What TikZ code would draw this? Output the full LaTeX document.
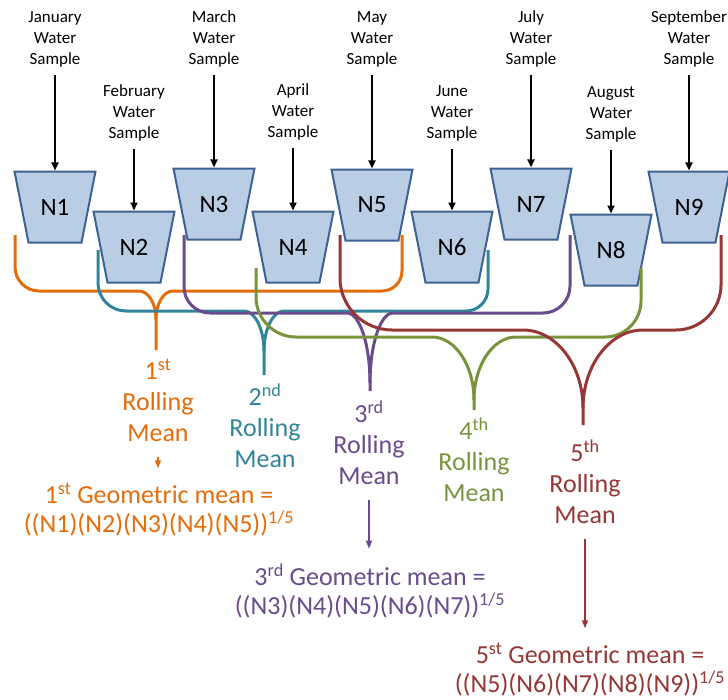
\documentclass[tikz,border=0pt]{standalone}
\usepackage{fontspec}
\setmainfont{Carlito}
\usetikzlibrary{arrows.meta}
\definecolor{cOr}{RGB}{228,108,10}
\definecolor{cTe}{RGB}{49,133,155}
\definecolor{cPu}{RGB}{104,76,140}
\definecolor{cGr}{RGB}{119,147,60}
\definecolor{cRe}{RGB}{149,55,53}
\definecolor{tfill}{RGB}{185,205,229}
\definecolor{tdraw}{RGB}{62,98,145}
\pgfdeclarelayer{bg}
\pgfsetlayers{bg,main}
\begin{document}
\begin{tikzpicture}[x=1bp,y=-1bp,
 trap/.style={rectangle, minimum width=81bp, minimum height=71bp, inner sep=0pt, outer sep=0pt,
   font=\fontsize{25bp}{30bp}\selectfont},
 trapshape/.style={fill=tfill, draw=tdraw, line width=2bp, line join=miter},
 sample/.style={align=center, inner sep=0pt, font=\fontsize{17bp}{21bp}\selectfont},
 inarr/.style={-{Triangle[length=8bp,width=7bp]}, line width=2bp, shorten <=8bp, shorten >=1bp},
 rlab/.style={align=center, inner sep=0pt, font=\fontsize{26bp}{31bp}\selectfont},
 glab/.style={align=center, inner sep=0pt, font=\fontsize{26bp}{29bp}\selectfont},
 outarr/.style={-{Triangle[length=8bp,width=6bp]}, line width=1.5bp, shorten <=15bp, shorten >=15bp},
 bracepath/.style={line width=3bp}]
\useasboundingbox (0,0) rectangle (728,700);

% trapezoid nodes
\node[trap] (N1) at (55,207) {N1};
\node[trap] (N2) at (134,247) {N2};
\node[trap] (N3) at (214,204) {N3};
\node[trap] (N4) at (293,247) {N4};
\node[trap] (N5) at (372,205) {N5};
\node[trap] (N6) at (452,247) {N6};
\node[trap] (N7) at (531,204) {N7};
\node[trap] (N8) at (611,250) {N8};
\node[trap] (N9) at (689,207) {N9};
\begin{pgfonlayer}{bg}
\foreach \i in {1,...,9} {
  \draw[trapshape] (N\i.north west) -- (N\i.north east) -- ([xshift=-14bp]N\i.south east)
     -- ([xshift=14bp]N\i.south west) -- cycle;
}
\end{pgfonlayer}

% sample labels
\node[sample] (S1) at (55,39) {January\\Water\\Sample};
\node[sample] (S2) at (134,113) {February\\Water\\Sample};
\node[sample] (S3) at (214,39) {March\\Water\\Sample};
\node[sample] (S4) at (293,112) {April\\Water\\Sample};
\node[sample] (S5) at (372,39) {May\\Water\\Sample};
\node[sample] (S6) at (452,113) {June\\Water\\Sample};
\node[sample] (S7) at (531,39) {July\\Water\\Sample};
\node[sample] (S8) at (611,114) {August\\Water\\Sample};
\node[sample] (S9) at (689,39) {September\\Water\\Sample};

\foreach \i in {1,...,9} { \draw[inarr] (S\i) -- (N\i); }

% braces
\foreach \cl/\xl/\xr/\ye/\yh/\rl/\rr/\xt/\tw/\td/\yt in {
  cOr/15/402/235/291/24/20/156/17/28/350,
  cTe/98/488/250/311/28/22/264/20/40/375,
  cPu/184/570/235/313/26/27/370/23/70/391,
  cGr/256/641/268/337/40/36/474/42/63/410,
  cRe/340/721/235/330/52/45/583/60/78/425}{
  \draw[bracepath, draw=\cl] ({\xl},{\ye}) -- ({\xl},{\yh-\rl})
     .. controls ({\xl},{\yh-0.45*\rl}) and ({\xl+0.45*\rl},{\yh}) .. ({\xl+\rl},{\yh})
     -- ({\xt-\tw},{\yh})
     .. controls ({\xt-0.45*\tw},{\yh}) and ({\xt},{\yh+0.45*\td}) .. ({\xt},{\yh+\td})
     -- ({\xt},{\yt});
  \draw[bracepath, draw=\cl] ({\xr},{\ye}) -- ({\xr},{\yh-\rr})
     .. controls ({\xr},{\yh-0.45*\rr}) and ({\xr-0.45*\rr},{\yh}) .. ({\xr-\rr},{\yh})
     -- ({\xt+\tw},{\yh})
     .. controls ({\xt+0.45*\tw},{\yh}) and ({\xt},{\yh+0.45*\td}) .. ({\xt},{\yh+\td});
}

% rolling mean labels
\node[rlab, text=cOr] (R1) at (158,400) {1\textsuperscript{st}\\Rolling\\Mean};
\node[rlab, text=cTe] (R2) at (265,426) {2\textsuperscript{nd}\\Rolling\\Mean};
\node[rlab, text=cPu] (R3) at (369,443) {3\textsuperscript{rd}\\Rolling\\Mean};
\node[rlab, text=cGr] (R4) at (474,460) {4\textsuperscript{th}\\Rolling\\Mean};
\node[rlab, text=cRe] (R5) at (585,482) {5\textsuperscript{th}\\Rolling\\Mean};

% geometric mean labels
\node[glab, text=cOr] (G1) at (159,510) {1\textsuperscript{st} Geometric mean =\\((N1)(N2)(N3)(N4)(N5))\textsuperscript{1/5}};
\node[glab, text=cPu] (G3) at (370,591) {3\textsuperscript{rd} Geometric mean =\\((N3)(N4)(N5)(N6)(N7))\textsuperscript{1/5}};
\node[glab, text=cRe] (G5) at (590,670) {5\textsuperscript{st} Geometric mean =\\((N5)(N6)(N7)(N8)(N9))\textsuperscript{1/5}};

\draw[outarr, draw=cOr] (R1) -- (R1 |- G1.north);
\draw[outarr, draw=cPu] (R3) -- (R3 |- G3.north);
\draw[outarr, draw=cRe] (R5) -- (R5 |- G5.north);
\end{tikzpicture}
\end{document}
